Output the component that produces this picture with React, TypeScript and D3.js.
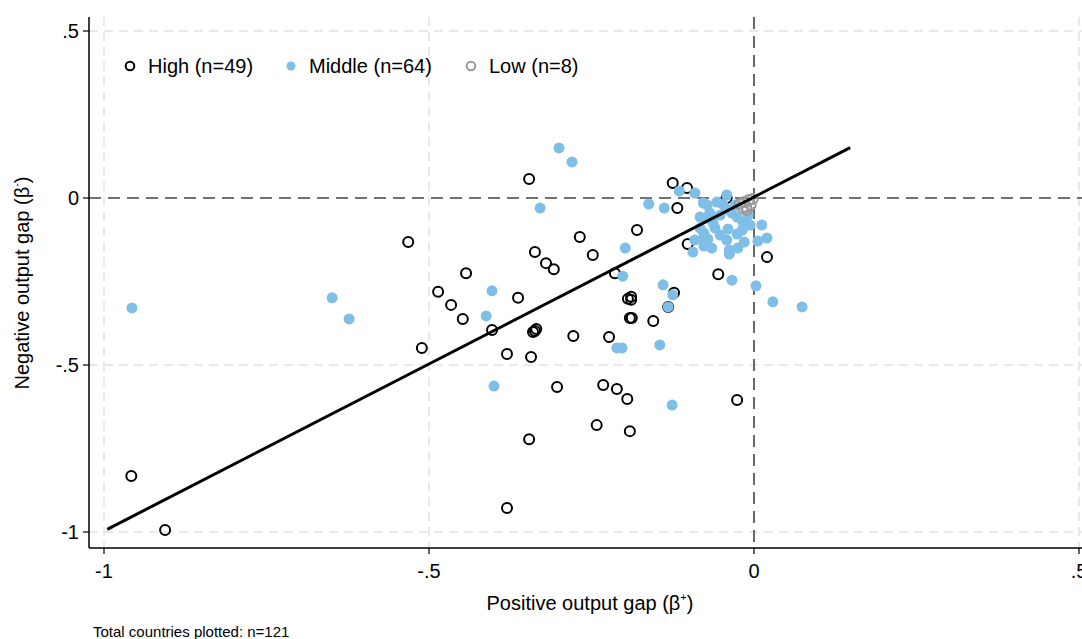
import React from 'react';
import * as d3 from 'd3';

// High income (hollow black)
const highX = [-0.958, -0.906, -0.532, -0.511, -0.486, -0.466, -0.448, -0.443, -0.403, -0.380, -0.380, -0.363, -0.346, -0.346, -0.343, -0.337, -0.337, -0.335, -0.320, -0.308, -0.303, -0.278, -0.268, -0.248, -0.242, -0.232, -0.223, -0.214, -0.211, -0.195, -0.191, -0.194, -0.189, -0.191, -0.188, -0.180, -0.155, -0.132, -0.123, -0.125, -0.118, -0.103, -0.102, -0.055, -0.042, -0.026, 0.020, -0.189, -0.340];
const highY = [-0.832, -0.994, -0.132, -0.449, -0.281, -0.320, -0.362, -0.225, -0.395, -0.467, -0.928, -0.299, 0.057, -0.722, -0.476, -0.162, -0.398, -0.392, -0.195, -0.213, -0.566, -0.413, -0.117, -0.171, -0.680, -0.560, -0.416, -0.225, -0.572, -0.602, -0.698, -0.302, -0.296, -0.359, -0.359, -0.096, -0.368, -0.326, -0.284, 0.045, -0.030, 0.030, -0.138, -0.228, 0.000, -0.605, -0.177, -0.305, -0.401];

// Middle income (filled blue)
const midX = [-0.957, -0.649, -0.623, -0.412, -0.403, -0.400, -0.329, -0.300, -0.280, -0.211, -0.203, -0.202, -0.198, -0.162, -0.145, -0.140, -0.138, -0.132, -0.126, -0.125, -0.115, -0.091, -0.083, -0.074, -0.078, -0.072, -0.057, -0.048, -0.042, -0.043, -0.034, -0.026, -0.017, -0.063, -0.060, -0.040, -0.052, -0.077, -0.078, -0.071, -0.077, -0.026, -0.015, 0.012, 0.006, 0.020, -0.094, -0.038, -0.038, -0.034, 0.003, 0.029, 0.074, -0.018, -0.042, -0.083, -0.068, -0.029, -0.009, -0.052, -0.091, -0.006, -0.025, -0.065];
const midY = [-0.329, -0.299, -0.362, -0.353, -0.278, -0.563, -0.030, 0.150, 0.108, -0.449, -0.449, -0.234, -0.150, -0.018, -0.440, -0.260, -0.030, -0.326, -0.620, -0.290, 0.021, 0.015, -0.057, -0.060, -0.015, -0.021, -0.012, -0.018, 0.009, -0.033, -0.045, -0.057, -0.072, -0.075, -0.090, -0.093, -0.111, -0.105, -0.123, -0.123, -0.144, -0.108, -0.132, -0.081, -0.129, -0.120, -0.162, -0.156, -0.168, -0.246, -0.263, -0.311, -0.326, -0.096, -0.126, -0.090, -0.045, -0.021, -0.051, -0.051, -0.126, -0.081, -0.150, -0.150];

// Low income (hollow grey)
const lowX = [-0.022, -0.015, -0.012, -0.008, -0.005, -0.002, -0.011, -0.017];
const lowY = [-0.018, -0.012, -0.027, -0.006, -0.021, -0.003, -0.036, -0.030];

// fitted line
const fitX = [-0.995, 0.148];
const fitIntercept = 0.003;
const fitSlope = 1.0;

const xTicks = [-1, -0.5, 0, 0.5];
const yTicks = [-1, -0.5, 0, 0.5];
const tickLabel = (v: number) => (v === 0 ? '0' : String(v).replace('0.', '.'));

const legend = [
  { label: 'High (n=49)', kind: 'high' },
  { label: 'Middle (n=64)', kind: 'mid' },
  { label: 'Low (n=8)', kind: 'low' },
];

const BLUE = '#7fbee7';
const GREY = '#9a9a9a';
const FONT = '"Liberation Sans Narrow", "Arial Narrow", "Liberation Sans", Arial, sans-serif';

export default function App() {
  const W = 1082;
  const H = 639;
  const axisX = 89;
  const axisY = 548;
  const top = 17;

  const x = d3.scaleLinear().domain([-1, 0.5]).range([104, 1079]);
  const y = d3.scaleLinear().domain([-1, 0.5]).range([532, 31]);

  const line = d3.line<number>()
    .x((d) => x(d))
    .y((d) => y(fitIntercept + fitSlope * d));

  const legendPos = [130, 291, 471];

  return (
    <svg width={W} height={H} style={{ position: 'absolute', left: 0, top: 0, background: '#fff' }} fontFamily={FONT}>
      <rect x={0} y={0} width={W} height={H} fill="#fff" />

      {/* light grid */}
      {xTicks.filter((t) => t !== 0).map((t) => (
        <line key={'gx' + t} x1={x(t)} x2={x(t)} y1={top} y2={axisY} stroke="#e9e9e9" strokeWidth={2} strokeDasharray="9 6" />
      ))}
      {yTicks.filter((t) => t !== 0).map((t) => (
        <line key={'gy' + t} x1={axisX} x2={W} y1={y(t)} y2={y(t)} stroke="#e9e9e9" strokeWidth={2} strokeDasharray="9 6" />
      ))}

      {/* zero reference lines */}
      <line x1={x(0)} x2={x(0)} y1={top} y2={axisY} stroke="#444" strokeWidth={1.6} strokeDasharray="12 7" />
      <line x1={axisX} x2={W} y1={y(0)} y2={y(0)} stroke="#444" strokeWidth={1.6} strokeDasharray="12 7" />

      {/* axes */}
      <line x1={axisX} x2={axisX} y1={top} y2={axisY} stroke="#000" strokeWidth={1.5} />
      <line x1={axisX} x2={W} y1={axisY} y2={axisY} stroke="#000" strokeWidth={1.5} />
      {yTicks.map((t) => (
        <g key={'yt' + t}>
          <line x1={axisX - 6} x2={axisX} y1={y(t)} y2={y(t)} stroke="#000" strokeWidth={1.2} />
          <text x={axisX - 10} y={y(t)} dy="0.35em" textAnchor="end" fontSize={20} fill="#000">{tickLabel(t)}</text>
        </g>
      ))}
      {xTicks.map((t) => (
        <g key={'xt' + t}>
          <line x1={x(t)} x2={x(t)} y1={axisY} y2={axisY + 6} stroke="#000" strokeWidth={1.2} />
          <text x={x(t)} y={axisY + 30} textAnchor="middle" fontSize={20} fill="#000">{tickLabel(t)}</text>
        </g>
      ))}

      {/* axis titles */}
      <text x={590} y={610} textAnchor="middle" fontSize={20} fill="#000">
        Positive output gap (β<tspan dy={-9} fontSize={11}>+</tspan><tspan dy={9}>)</tspan>
      </text>
      <text transform="translate(29,283) rotate(-90)" textAnchor="middle" fontSize={20} fill="#000">
        Negative output gap (β<tspan dy={-9} fontSize={11}>-</tspan><tspan dy={9}>)</tspan>
      </text>
      <text x={93} y={637} fontSize={15} fill="#000">Total countries plotted: n=121</text>

      {/* legend */}
      {legend.map((l, i) => (
        <g key={l.kind}>
          {l.kind === 'high' && <circle cx={legendPos[i]} cy={66} r={4.3} fill="none" stroke="#000" strokeWidth={2} />}
          {l.kind === 'mid' && <circle cx={legendPos[i]} cy={66} r={4.5} fill={BLUE} />}
          {l.kind === 'low' && <circle cx={legendPos[i]} cy={66} r={4.3} fill="none" stroke={GREY} strokeWidth={2} />}
          <text x={legendPos[i] + 18} y={73} fontSize={20} fill="#000">{l.label}</text>
        </g>
      ))}

      {/* points */}
      {highX.map((v, i) => (
        <circle key={'h' + i} cx={x(v)} cy={y(highY[i])} r={5} fill="none" stroke="#000" strokeWidth={2} />
      ))}
      {midX.map((v, i) => (
        <circle key={'m' + i} cx={x(v)} cy={y(midY[i])} r={5.5} fill={BLUE} />
      ))}
      {lowX.map((v, i) => (
        <circle key={'l' + i} cx={x(v)} cy={y(lowY[i])} r={5} fill="none" stroke={GREY} strokeWidth={2} />
      ))}

      {/* fit line */}
      <path d={line(fitX) || ''} fill="none" stroke="#000" strokeWidth={3} />
    </svg>
  );
}
